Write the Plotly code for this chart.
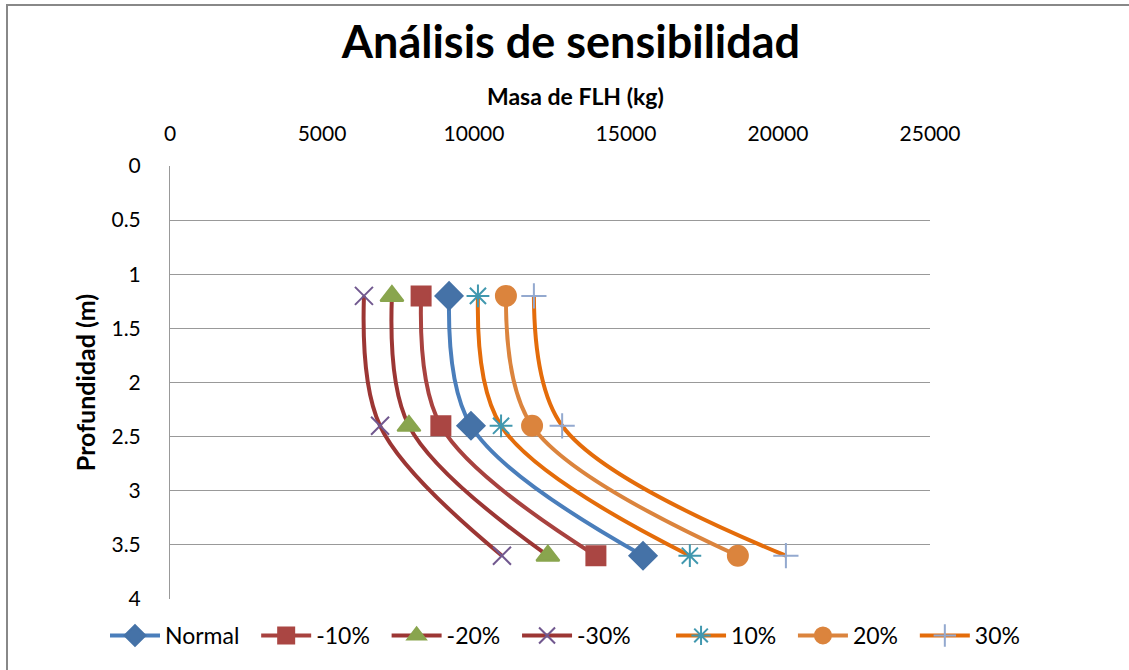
import plotly.graph_objects as go

# depth (m) of each measurement
depth = [1.2, 2.4, 3.6]

# FLH mass (kg) per scenario
normal = [9180, 9900, 15560]
minus_10 = [8260, 8910, 14010]
minus_20 = [7300, 7860, 12430]
minus_30 = [6380, 6910, 10920]
plus_10 = [10130, 10890, 17100]
plus_20 = [11050, 11910, 18680]
plus_30 = [11970, 12900, 20260]

FONT = 'Lato'
NBSP = '\u00a0'

# name, values, line colour, marker colour, symbol, size, legend padding
series = [
    ('Normal', normal, '#4A7EBB', '#4572A7', 'diamond', 21, 2),
    ('-10%', minus_10, '#A8423F', '#AA4643', 'square', 19, 2),
    ('-20%', minus_20, '#9C3634', '#89A54E', 'triangle-up', 20, 2),
    ('-30%', minus_30, '#9C3634', '#71588F', 'x-thin-open', 18, 6),
    ('10%', plus_10, '#E46C0A', '#4198AF', 'asterisk-open', 19, 2),
    ('20%', plus_20, '#DB843D', '#DB843D', 'circle', 20, 2),
    ('30%', plus_30, '#E46C0A', '#93A9CF', 'cross-thin-open', 18, 0),
]

fig = go.Figure()
for name, vals, line_color, marker_color, symbol, size, pad in series:
    fig.add_trace(go.Scatter(
        x=vals, y=depth, name=name + NBSP * pad, mode='lines+markers',
        line={'color': line_color, 'width': 4, 'shape': 'spline', 'smoothing': 1},
        marker={'color': marker_color, 'symbol': symbol, 'size': size,
                'line': {'color': marker_color, 'width': 2}},
    ))

fig.update_layout({
    'width': 1129,
    'height': 670,
    'margin': {'l': 170, 'r': 199, 't': 166, 'b': 71, 'autoexpand': False},
    'paper_bgcolor': 'white',
    'plot_bgcolor': 'white',
    'font': {'family': FONT, 'color': 'black', 'size': 21},
    'title': {
        'text': '<b>Análisis de sensibilidad</b>',
        'x': (571 - 170) / 760, 'xref': 'paper', 'xanchor': 'center',
        'y': 1 - 42 / 670, 'yref': 'container', 'yanchor': 'middle',
        'font': {'size': 45, 'family': FONT},
    },
    'xaxis': {
        'side': 'top',
        'range': [0, 25000],
        'dtick': 5000,
        'tickformat': 'd',
        'showgrid': False,
        'zeroline': False,
        'showline': False,
        'ticklabelstandoff': 20,
    },
    'yaxis': {
        'range': [4, 0],
        'dtick': 0.5,
        'showgrid': True,
        'gridcolor': '#999999',
        'gridwidth': 1,
        'zeroline': False,
        'showline': True,
        'linecolor': '#999999',
        'ticklabelstandoff': 24,
        'title': {'text': '<b>Profundidad (m)</b>', 'font': {'size': 25}, 'standoff': 8},
    },
    'legend': {
        'orientation': 'h',
        'x': (105 - 170) / 760, 'xanchor': 'left',
        'y': (599 - 614) / 433, 'yanchor': 'top',
        'font': {'size': 23},
        'itemwidth': 50,
        'bgcolor': 'rgba(0,0,0,0)',
    },
    'annotations': [{
        'text': '<b>Masa de FLH (kg)</b>',
        'xref': 'paper', 'yref': 'paper',
        'x': (575 - 170) / 760, 'y': (599 - 96) / 433,
        'xanchor': 'center', 'yanchor': 'middle',
        'showarrow': False,
        'font': {'size': 23},
    }],
    'shapes': [{
        'type': 'rect', 'xref': 'paper', 'yref': 'paper',
        'x0': (7 - 170) / 760, 'x1': 1.4,
        'y0': -0.4, 'y1': (599 - 5) / 433,
        'line': {'color': '#888888', 'width': 2},
        'layer': 'below',
    }],
})

fig.write_html('out.html', config={'displayModeBar': False},
               post_script="document.body.style.margin='0';")
